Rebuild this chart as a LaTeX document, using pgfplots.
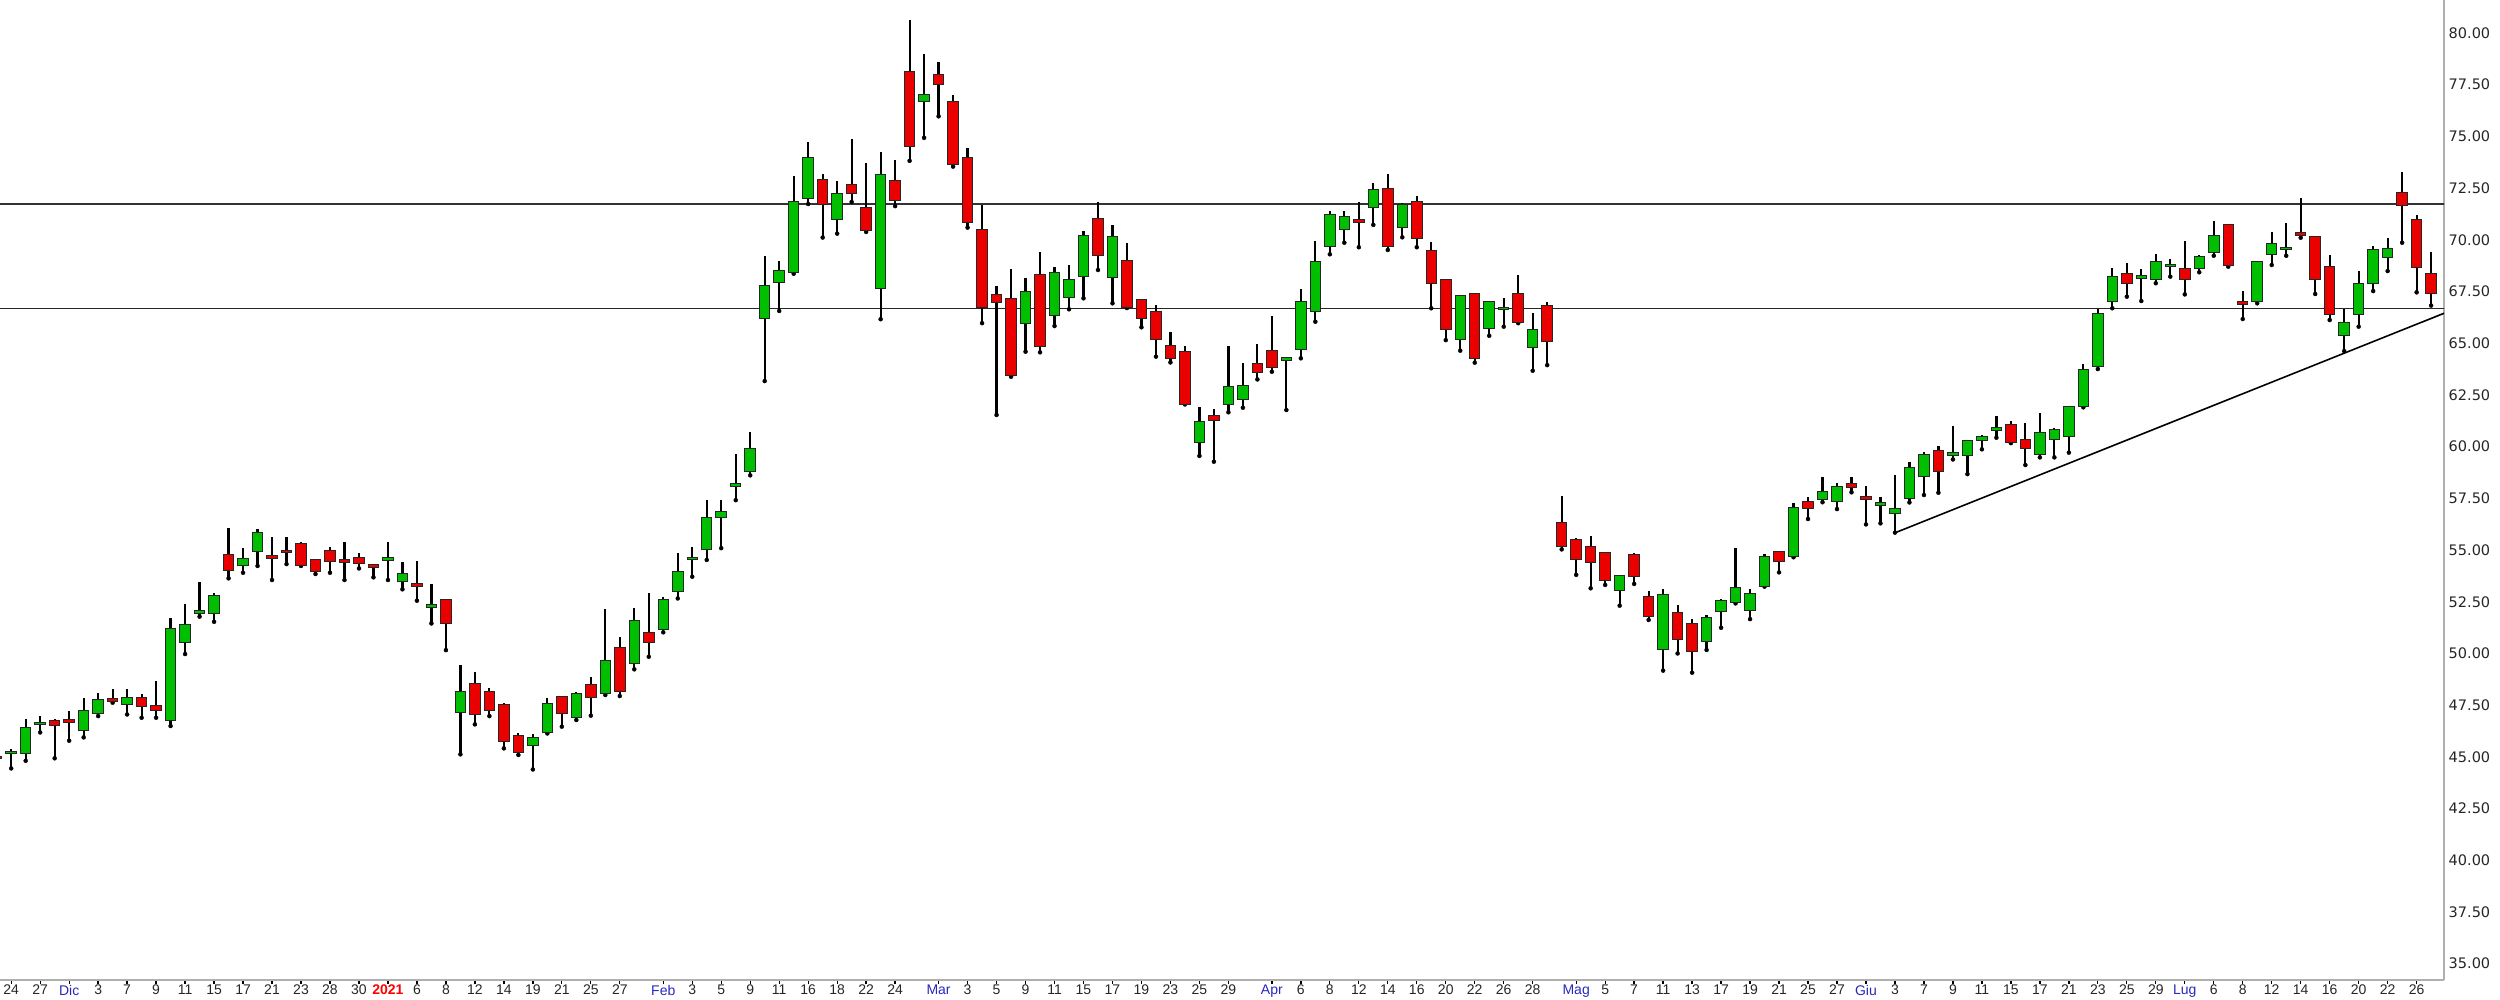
\documentclass[border=0pt]{standalone}
\usepackage{pgfplots}
\pgfplotsset{compat=1.18}
\usepackage{pgfplotstable}
\usepackage{fontspec}
\setmainfont{Liberation Sans}
\newfontfamily\yfont{DejaVu Sans}
\definecolor{cgreen}{RGB}{0,190,0}
\definecolor{cred}{RGB}{235,0,0}
\definecolor{mblue}{RGB}{40,40,190}
\definecolor{axgray}{RGB}{175,175,175}

\pgfplotstableread{
i o h l c
-1 44.95 45.05 44.80 44.90
0 45.15 45.36 44.44 45.25
1 45.17 46.81 44.81 46.43
2 46.55 46.97 46.18 46.62
3 46.78 46.85 44.93 46.50
4 46.81 47.23 45.78 46.68
5 46.26 47.86 45.94 47.22
6 47.10 48.07 46.97 47.79
7 47.72 48.28 47.62 47.68
8 47.54 48.28 47.05 47.89
9 47.89 48.02 46.89 47.42
10 47.50 48.65 46.89 47.22
11 46.78 51.70 46.49 51.20
12 50.55 52.39 49.97 51.42
13 51.95 53.43 51.78 51.99
14 51.94 52.90 51.53 52.79
15 54.76 56.05 53.63 54.03
16 54.27 55.08 53.90 54.58
17 54.92 56.00 54.23 55.84
18 54.66 55.61 53.55 54.61
19 54.98 55.61 54.32 54.87
20 55.32 55.40 54.23 54.27
21 54.52 54.55 53.84 53.98
22 54.97 55.16 53.90 54.44
23 54.52 55.37 53.55 54.39
24 54.65 54.84 54.11 54.36
25 54.23 54.25 53.68 54.15
26 54.50 55.40 53.55 54.54
27 53.50 54.44 53.10 53.86
28 53.28 54.47 52.55 53.24
29 52.24 53.34 51.45 52.28
30 52.63 52.65 50.16 51.45
31 47.15 49.44 45.12 48.15
32 48.55 49.08 46.57 47.05
33 48.15 48.34 46.97 47.22
34 47.54 47.59 45.41 45.76
35 46.05 46.13 45.09 45.20
36 45.54 46.09 44.39 45.92
37 46.18 47.86 46.13 47.59
38 47.91 47.96 46.46 47.10
39 46.89 48.12 46.78 48.07
40 48.50 48.87 46.99 47.86
41 48.04 52.13 47.99 49.68
42 50.29 50.78 47.94 48.15
43 49.49 52.18 49.23 51.57
44 51.00 52.90 49.84 50.52
45 51.18 52.71 51.02 52.63
46 52.99 54.84 52.66 53.95
47 54.53 55.16 53.71 54.57
48 55.02 57.41 54.52 56.55
49 56.55 57.41 55.09 56.84
50 58.07 59.62 57.41 58.23
51 58.80 60.70 58.61 59.90
52 66.21 69.20 63.17 67.77
53 67.93 68.97 66.56 68.53
54 68.44 73.10 68.36 71.86
55 71.98 74.73 71.73 73.96
56 72.93 73.19 70.11 71.73
57 70.97 72.83 70.30 72.24
58 72.68 74.87 71.83 72.24
59 71.58 73.69 70.38 70.44
60 67.64 74.24 66.16 73.16
61 72.87 73.86 71.63 71.88
62 78.16 80.63 73.82 74.53
63 76.71 78.99 74.93 77.02
64 77.97 78.61 75.97 77.53
65 76.71 77.02 73.54 73.63
66 73.96 74.45 70.59 70.82
67 70.49 71.69 65.97 66.73
68 67.37 67.77 61.53 66.97
69 67.17 68.57 63.38 63.46
70 65.96 68.14 64.59 67.49
71 68.33 69.39 64.56 64.83
72 66.32 68.67 65.83 68.43
73 67.22 68.78 66.64 68.06
74 68.22 70.42 67.17 70.23
75 71.04 71.81 68.54 69.23
76 68.18 70.72 66.93 70.18
77 69.02 69.83 66.70 66.72
78 67.09 67.12 65.77 66.20
79 66.52 66.85 64.35 65.19
80 64.91 65.56 64.07 64.24
81 64.59 64.86 62.04 62.06
82 60.19 61.93 59.55 61.21
83 61.50 61.80 59.27 61.25
84 62.06 64.88 61.66 62.90
85 62.29 64.03 61.88 62.95
86 64.03 64.94 63.25 63.59
87 64.67 66.33 63.62 63.82
88 64.17 64.27 61.77 64.21
89 64.70 67.60 64.27 67.01
90 66.52 69.94 66.04 68.97
91 69.70 71.39 69.30 71.20
92 70.51 71.39 69.86 71.15
93 70.91 71.81 69.64 70.84
94 71.57 72.73 70.72 72.41
95 72.49 73.18 69.51 69.70
96 70.60 71.80 70.12 71.71
97 71.84 72.13 69.64 70.07
98 69.46 69.88 66.69 67.89
99 68.06 68.08 65.15 65.67
100 65.19 67.35 64.64 67.33
101 67.38 67.41 64.06 64.27
102 65.72 67.06 65.36 67.01
103 66.62 67.17 65.80 66.66
104 67.38 68.30 65.97 65.99
105 64.80 66.48 63.67 65.67
106 66.80 67.01 63.94 65.07
107 56.32 57.61 55.03 55.19
108 55.52 55.60 53.80 54.55
109 55.19 55.68 53.15 54.39
110 54.87 54.90 53.31 53.55
111 53.02 53.80 52.31 53.79
112 54.76 54.87 53.36 53.74
113 52.74 53.02 51.62 51.78
114 50.20 53.12 49.17 52.86
115 51.99 52.34 50.00 50.68
116 51.45 51.66 49.07 50.08
117 50.57 51.86 50.17 51.73
118 52.05 52.63 51.24 52.58
119 52.47 55.08 52.42 53.18
120 52.10 53.12 51.66 52.91
121 53.26 54.81 53.23 54.71
122 54.92 54.95 53.92 54.44
123 54.68 57.26 54.65 57.05
124 57.37 57.58 56.50 57.01
125 57.42 58.55 57.31 57.82
126 57.37 58.22 56.98 58.06
127 58.22 58.52 57.79 58.01
128 57.58 58.11 56.24 57.45
129 57.16 57.58 56.29 57.20
130 56.77 58.63 55.84 57.00
131 57.47 59.24 57.30 58.98
132 58.55 59.76 57.66 59.60
133 59.80 60.05 57.77 58.79
134 59.55 61.00 59.38 59.72
135 59.55 60.34 58.67 60.32
136 60.29 60.56 59.87 60.51
137 60.78 61.48 60.43 60.82
138 61.09 61.25 60.17 60.19
139 60.35 61.12 59.11 59.92
140 59.64 61.61 59.48 60.67
141 60.35 60.88 59.48 60.83
142 60.51 61.96 59.71 61.93
143 61.93 63.98 61.90 63.74
144 63.87 66.64 63.75 66.44
145 67.01 68.65 66.69 68.22
146 68.38 68.89 67.25 67.90
147 68.15 68.57 67.04 68.25
148 68.10 69.30 67.90 68.97
149 68.70 69.07 68.22 68.81
150 68.59 69.94 67.36 68.10
151 68.59 69.26 68.43 69.18
152 69.38 70.91 69.23 70.20
153 70.76 70.78 68.70 68.75
154 67.01 67.54 66.17 66.85
155 67.04 68.99 66.93 68.97
156 69.30 70.36 68.78 69.83
157 69.51 70.80 69.23 69.62
158 70.23 72.01 70.10 70.20
159 70.15 70.17 67.38 68.06
160 68.70 69.26 66.12 66.41
161 65.35 66.65 64.62 66.01
162 66.41 68.49 65.80 67.90
163 67.90 69.72 67.52 69.51
164 69.14 70.10 68.49 69.56
165 72.28 73.29 69.86 71.68
166 70.99 71.20 67.46 68.65
167 68.38 69.39 66.82 67.41
}\ohlc

\pgfplotsset{
  basegeom/.style={at={(0pt,20pt)}, anchor=south west, scale only axis,
    width=2444pt, height=980pt, xmin=-0.773, xmax=167.89, ymin=34.21, ymax=81.596},
}

\begin{document}
\begin{tikzpicture}
\useasboundingbox (0,0) rectangle (2500pt,1000pt);
\begin{axis}[basegeom,
  axis x line*=bottom, axis y line*=right,
  axis line style={draw=axgray, line width=1.5pt},
  tick align=outside, major tick length=4.5pt,
  xtick={0,2,4,6,8,10,12,14,16,18,20,22,24,26,28,30,32,34,36,38,40,42,45,47,49,51,53,55,57,59,61,64,66,68,70,72,74,76,78,80,82,84,87,89,91,93,95,97,99,101,103,105,108,110,112,114,116,118,120,122,124,126,128,130,132,134,136,138,140,142,144,146,148,150,152,154,156,158,160,162,164,166},
  xticklabels={24,27,\textcolor{mblue}{Dic},3,7,9,11,15,17,21,23,28,30,\textcolor{red}{\bfseries 2021},6,8,12,14,19,21,25,27,\textcolor{mblue}{Feb},3,5,9,11,16,18,22,24,\textcolor{mblue}{Mar},3,5,9,11,15,17,19,23,25,29,\textcolor{mblue}{Apr},6,8,12,14,16,20,22,26,28,\textcolor{mblue}{Mag},5,7,11,13,17,19,21,25,27,\textcolor{mblue}{Giu},3,7,9,11,15,17,21,23,25,29,\textcolor{mblue}{Lug},6,8,12,14,16,20,22,26},
  xtick style={draw=black, line width=1.3pt},
  xticklabel style={font=\fontsize{14}{16}\selectfont, text=black!85, inner sep=0.5pt},
  ytick={35,37.5,40,42.5,45,47.5,50,52.5,55,57.5,60,62.5,65,67.5,70,72.5,75,77.5,80},
  yticklabels={35.00,37.50,40.00,42.50,45.00,47.50,50.00,52.50,55.00,57.50,60.00,62.50,65.00,67.50,70.00,72.50,75.00,77.50,80.00},
  ytick style={draw=none},
  yticklabel style={font=\yfont\fontsize{14.5}{16}\selectfont, anchor=west, text=black!85, inner sep=0pt},
]
\addplot[black!80, line width=1.6pt] coordinates {(-1,71.73) (169,71.73)};
\addplot[black!85, line width=1.5pt] coordinates {(-1,66.69) (169,66.69)};
\addplot[black, line width=1.6pt] coordinates {(130.1,55.86) (167.9,66.45)};
\addplot[only marks, mark=none, error bars/.cd, y dir=plus, y explicit, error mark=none,
  error bar style={draw=black, line width=2.2pt}]
  table[x=i, y=l, y error expr=\thisrow{h}-\thisrow{l}] {\ohlc};
\end{axis}
\begin{axis}[basegeom, hide axis, ybar stacked, bar width=10.5pt]
\addplot[draw=none, fill=none] table[x=i, y expr={min(\thisrow{o},\thisrow{c})}] {\ohlc};
\addplot[fill=cgreen, draw=black!85, line width=1pt] table[x=i, y expr={(\thisrow{c}>=\thisrow{o}) ? max(\thisrow{c}-\thisrow{o},0.13) : 0}] {\ohlc};
\addplot[fill=cred, draw=black!85, line width=1pt] table[x=i, y expr={(\thisrow{c}<\thisrow{o}) ? max(\thisrow{o}-\thisrow{c},0.13) : 0}] {\ohlc};
\end{axis}
\end{tikzpicture}
\end{document}
